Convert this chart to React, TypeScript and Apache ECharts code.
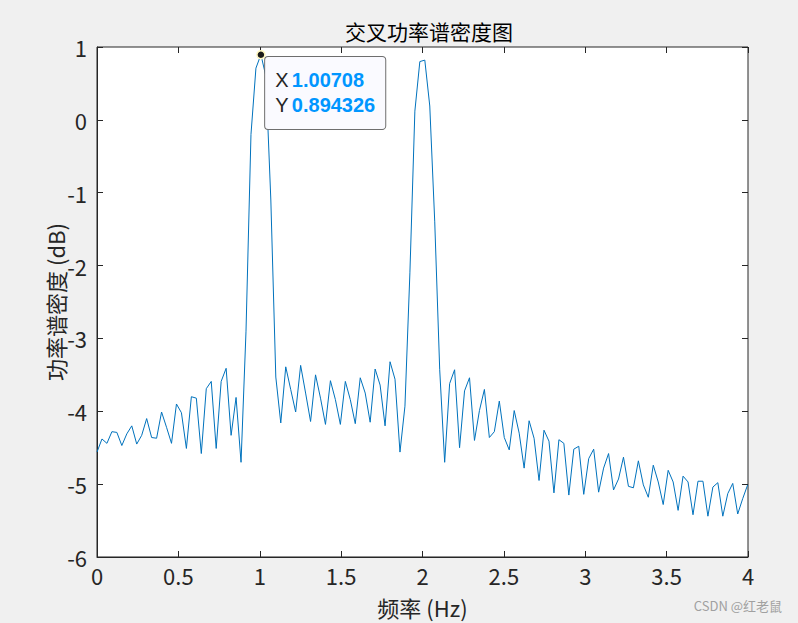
import React, { useEffect, useRef } from "react";
import * as echarts from "echarts";

// Frequency bin spacing (fs = 1000 Hz, N = 32768) -> bins k = 0..131 cover 0..4 Hz
const FREQ_STEP = 1000 / 32768;

// Cross power spectral density values (dB), one per bin
const psdValues: number[] = [
  -4.56, -4.38, -4.44, -4.28, -4.29, -4.47, -4.31, -4.2, -4.45, -4.33,
  -4.1, -4.36, -4.37, -4.01, -4.22, -4.44, -3.9, -4.02, -4.51, -3.8,
  -3.82, -4.58, -3.69, -3.59, -4.51, -3.59, -3.41, -4.33, -3.81, -4.7,
  -2.9, -0.2, 0.71, 0.894326, 0.6, -1.1, -3.53, -4.16, -3.39, -3.7,
  -4.01, -3.37, -3.75, -4.14, -3.5, -3.82, -4.18, -3.58, -3.84, -4.18,
  -3.59, -3.84, -4.17, -3.54, -3.75, -4.15, -3.42, -3.64, -4.2, -3.32,
  -3.56, -4.56, -3.93, -2.1, 0.12, 0.8, 0.82, 0.19, -1.4, -3.43,
  -4.7, -3.62, -3.43, -4.5, -3.72, -3.54, -4.4, -3.99, -3.7, -4.36,
  -4.28, -3.86, -4.36, -4.53, -3.99, -4.3, -4.78, -4.13, -4.37, -4.95,
  -4.26, -4.41, -5.12, -4.39, -4.44, -5.15, -4.52, -4.48, -5.14, -4.65,
  -4.52, -5.11, -4.78, -4.58, -5.08, -4.93, -4.63, -5.03, -5.05, -4.68,
  -5.01, -5.18, -4.74, -4.97, -5.28, -4.81, -4.97, -5.36, -4.89, -4.97,
  -5.42, -4.96, -4.96, -5.44, -5.04, -4.98, -5.44, -5.13, -4.99, -5.41,
  -5.2, -5.01,
];

const TITLE = "交叉功率谱密度图";
const X_NAME = "频率 (Hz)";
const Y_NAME = "功率谱密度 (dB)";
const TIP_X = 1.00708;
const TIP_Y = 0.894326;
const WATERMARK = "CSDN @红老鼠";

const AXIS_COLOR = "#262626";
const LINE_COLOR = "#0072bd";
const NARROW =
  "'Liberation Sans Narrow', 'Noto Sans CJK SC', 'Liberation Sans', sans-serif";
const LATIN = "'Liberation Sans', Arial, 'Noto Sans CJK SC', sans-serif";
const CJK = "'Noto Sans CJK SC', 'Liberation Sans', sans-serif";

export default function App() {
  const ref = useRef<HTMLDivElement | null>(null);

  useEffect(() => {
    document.body.style.margin = "0";
    if (!ref.current) return;
    const chart = echarts.init(ref.current, undefined, { renderer: "svg" });
    const data = psdValues.map((v, k) => [k * FREQ_STEP, v]);

    const baseTick = {
      show: true,
      inside: true,
      length: 6,
      lineStyle: { color: AXIS_COLOR, width: 1 },
    };

    chart.setOption({
      animation: false,
      backgroundColor: "#f0f0f0",
      title: {
        text: TITLE,
        left: 424,
        top: 15,
        textAlign: "center",
        textStyle: {
          fontFamily: CJK,
          fontSize: 21,
          fontWeight: "normal",
          color: "#000",
        },
      },
      grid: {
        left: 97,
        top: 47,
        width: 651,
        height: 515,
        show: true,
        backgroundColor: "#ffffff",
        borderColor: AXIS_COLOR,
        borderWidth: 1,
      },
      xAxis: [
        {
          type: "value",
          min: 0,
          max: 4,
          interval: 0.5,
          position: "bottom",
          name: X_NAME,
          nameLocation: "middle",
          nameGap: 39,
          nameTextStyle: { fontFamily: NARROW, fontSize: 22, color: AXIS_COLOR },
          axisLine: {
            show: true,
            onZero: false,
            lineStyle: { color: AXIS_COLOR, width: 1 },
          },
          axisTick: baseTick,
          axisLabel: {
            fontFamily: NARROW,
            fontSize: 22,
            color: AXIS_COLOR,
            margin: 7,
          },
          splitLine: { show: false },
        },
        {
          type: "value",
          min: 0,
          max: 4,
          interval: 0.5,
          position: "top",
          axisLine: { show: false, onZero: false },
          axisTick: baseTick,
          axisLabel: { show: false },
          splitLine: { show: false },
        },
      ],
      yAxis: [
        {
          type: "value",
          min: -6,
          max: 1,
          interval: 1,
          position: "left",
          name: Y_NAME,
          nameLocation: "middle",
          nameGap: 31,
          nameMoveOverlap: false,
          nameRotate: 90,
          nameTextStyle: { fontFamily: NARROW, fontSize: 22, color: AXIS_COLOR },
          axisLine: {
            show: true,
            onZero: false,
            lineStyle: { color: AXIS_COLOR, width: 1 },
          },
          axisTick: baseTick,
          axisLabel: {
            fontFamily: NARROW,
            fontSize: 22,
            color: AXIS_COLOR,
            margin: 10,
          },
          splitLine: { show: false },
        },
        {
          type: "value",
          min: -6,
          max: 1,
          interval: 1,
          position: "right",
          axisLine: { show: false, onZero: false },
          axisTick: baseTick,
          axisLabel: { show: false },
          splitLine: { show: false },
        },
      ],
      series: [
        {
          type: "line",
          data,
          showSymbol: false,
          symbol: "none",
          lineStyle: { color: LINE_COLOR, width: 1 },
          itemStyle: { color: LINE_COLOR },
          markPoint: {
            symbol: "circle",
            symbolSize: 8,
            itemStyle: {
              color: "#1a1a1a",
              borderColor: "#fff7c0",
              borderWidth: 1.5,
            },
            data: [
              {
                coord: [TIP_X, TIP_Y],
                label: {
                  show: true,
                  position: [9, 7],
                  formatter: `{k|X} {v|${TIP_X}}\n{k|Y} {v|${TIP_Y}}`,
                  backgroundColor: "#fafaff",
                  borderColor: "#6e6e6e",
                  borderWidth: 1,
                  borderRadius: 3,
                  padding: [11, 10, 11, 10],
                  rich: {
                    k: {
                      fontFamily: LATIN,
                      fontSize: 20,
                      color: AXIS_COLOR,
                      lineHeight: 25,
                    },
                    v: {
                      fontFamily: LATIN,
                      fontSize: 20,
                      fontWeight: "bold",
                      color: "#0096ff",
                      lineHeight: 25,
                    },
                  },
                },
              },
            ],
          },
        },
      ],
      graphic: [
        {
          type: "text",
          right: 16,
          top: 599,
          style: {
            text: WATERMARK,
            fill: "#a0a0a0",
            font: `13px ${NARROW}`,
          },
        },
      ],
    });

    return () => {
      chart.dispose();
    };
  }, []);

  return (
    <div
      ref={ref}
      style={{ position: "absolute", left: 0, top: 0, width: 798, height: 623 }}
    />
  );
}
